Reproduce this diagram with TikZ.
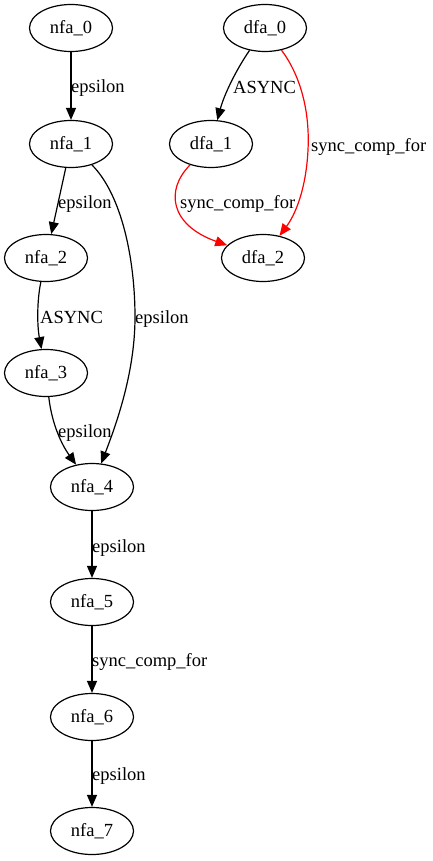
\documentclass[tikz,border=0pt]{standalone}
\usepackage{fontspec}
\setmainfont{Liberation Serif}
\usetikzlibrary{arrows.meta,shapes.geometric}
\begin{document}
\begin{tikzpicture}[x=1pt,y=-1pt,
  state/.style={draw,ellipse,line width=1.2pt,minimum width=83pt,minimum height=47pt,inner sep=0pt,font=\fontsize{18.5}{22}\selectfont},
  lab/.style={anchor=west,inner sep=0pt,font=\fontsize{18.5}{22}\selectfont},
  edge/.style={line width=1.2pt,-{Triangle[length=12pt,width=10pt]}},
  redge/.style={edge,draw=red,-{Triangle[length=12pt,width=10pt,fill=red]}}]
\useasboundingbox (0,0) rectangle (432,861);
\node[state] (nfa_0) at (71,28) {nfa\_0};
\node[state] (nfa_1) at (71,144) {nfa\_1};
\node[state] (nfa_2) at (46,258) {nfa\_2};
\node[state] (nfa_3) at (46,373) {nfa\_3};
\node[state] (nfa_4) at (92,487) {nfa\_4};
\node[state] (nfa_5) at (92,602) {nfa\_5};
\node[state] (nfa_6) at (92,717) {nfa\_6};
\node[state] (nfa_7) at (92,831) {nfa\_7};
\node[state] (dfa_0) at (265,28) {dfa\_0};
\node[state] (dfa_1) at (211,144) {dfa\_1};
\node[state] (dfa_2) at (263,258) {dfa\_2};

\draw[edge] (nfa_0) -- (nfa_1);
\draw[edge] (nfa_1) -- (nfa_2);
\draw[edge] (nfa_1) .. controls (122,195) and (135,260) .. (135,317) .. controls (135,370) and (118,420) .. (nfa_4);
\draw[edge] (nfa_2) .. controls (37,300) and (37,325) .. (nfa_3);
\draw[edge] (nfa_3) .. controls (52,425) and (62,445) .. (nfa_4);
\draw[edge] (nfa_4) -- (nfa_5);
\draw[edge] (nfa_5) -- (nfa_6);
\draw[edge] (nfa_6) -- (nfa_7);
\draw[edge] (dfa_0) .. controls (236,70) and (224,95) .. (dfa_1);
\draw[redge] (dfa_0) .. controls (300,75) and (310,110) .. (308,150) .. controls (306,190) and (295,215) .. (dfa_2);
\draw[redge] (dfa_1) .. controls (165,190) and (170,225) .. (dfa_2);

\node[lab] (l01) at (71,88) {epsilon};
\node[lab] (l12) at (58,204) {epsilon};
\node[lab] (l14) at (135,319) {epsilon};
\node[lab] (l23) at (40,317) {ASYNC};
\node[lab] (l34) at (58,433) {epsilon};
\node[lab] (l45) at (92,548) {epsilon};
\node[lab] (l56) at (92,662) {sync\_comp\_for};
\node[lab] (l67) at (92,776) {epsilon};
\node[lab] (d01) at (233,87) {ASYNC};
\node[lab] (d02) at (311,147) {sync\_comp\_for};
\node[lab] (d12) at (180,204) {sync\_comp\_for};
\end{tikzpicture}
\end{document}
